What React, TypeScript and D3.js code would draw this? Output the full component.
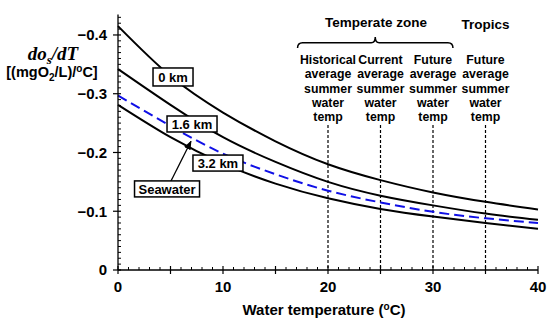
import React from 'react';
import * as d3 from 'd3';

// water temperature (°C) sampled every 5 degrees
const temps = [0, 5, 10, 15, 20, 25, 30, 35, 40];
// dos/dT in (mgO2/L)/°C
const km0 = [-0.415, -0.33, -0.268, -0.219, -0.18, -0.153, -0.132, -0.116, -0.103];
const km16 = [-0.342, -0.281, -0.226, -0.184, -0.15, -0.1265, -0.11, -0.096, -0.0855];
const km32 = [-0.281, -0.226, -0.181, -0.147, -0.122, -0.104, -0.091, -0.08, -0.07];
const seawater = [-0.297, -0.245, -0.198, -0.163, -0.135, -0.115, -0.099, -0.088, -0.08];

const yTicks = [0, -0.1, -0.2, -0.3, -0.4];
const xTicks = [0, 10, 20, 30, 40];

// reference temperatures marked with dashed lines
const markTemps = [20, 25, 30, 35];
const markFirstWord = ['Historical', 'Current', 'Future', 'Future'];
const markRest = ['average', 'summer', 'water', 'temp'];

const FONT = 'Liberation Sans, Arial, Helvetica, sans-serif';

const App = () => {
  const x = d3.scaleLinear().domain([0, 40]).range([118, 538]);
  const y = d3.scaleLinear().domain([0, -0.435]).range([270, 14.4]);

  const line = d3
    .line<number>()
    .x((_, i) => x(temps[i]))
    .y(d => y(d))
    .curve(d3.curveNatural);

  const yMinor = d3.range(1, 44).filter(i => i % 10 !== 0).map(i => -i * 0.01);
  const xMinor = d3.range(0, 41).filter(t => t % 5 !== 0);
  const xMid = d3.range(0, 41, 5);

  // curve labels, placed in data units
  const labels = [
    { text: '0 km', t: 5.24, v: -0.3285, w: 40, h: 18 },
    { text: '1.6 km', t: 7.05, v: -0.2485, w: 50, h: 16 },
    { text: '3.2 km', t: 9.52, v: -0.182, w: 50, h: 16 },
    { text: 'Seawater', t: 4.67, v: -0.138, w: 65, h: 16 },
  ];

  const bx0 = x(17.1), bx1 = x(31.9), bxm = x(24.5);
  const brace = `M${bx0},48 Q${bx0},42.7 ${bx0 + 5},42.7 L${bxm - 4},42.7 Q${bxm},42.7 ${bxm},37 Q${bxm},42.7 ${bxm + 4},42.7 L${bx1 - 5},42.7 Q${bx1},42.7 ${bx1},48`;

  return (
    <svg width={550} height={322} style={{ position: 'absolute', left: 0, top: 0 }} fontFamily={FONT} fontWeight="bold">
      <defs>
        <marker id="arr" viewBox="0 0 10 10" refX="9" refY="5" markerWidth="7" markerHeight="7" orient="auto">
          <path d="M0,1 L10,5 L0,9 z" fill="black" />
        </marker>
      </defs>

      {/* dashed reference lines */}
      {markTemps.map(t => (
        <line key={t} x1={x(t)} x2={x(t)} y1={125} y2={y(0)} stroke="black" strokeWidth={1.2} strokeDasharray="3,2" />
      ))}

      {/* curves */}
      {[km0, km16, km32].map((s, i) => (
        <path key={i} d={line(s) || ''} fill="none" stroke="black" strokeWidth={2} />
      ))}
      <path d={line(seawater) || ''} fill="none" stroke="#1010e6" strokeWidth={2} strokeDasharray="10,5" />

      {/* y axis */}
      <line x1={x(0)} x2={x(0)} y1={y(0)} y2={y(-0.435)} stroke="black" strokeWidth={1.3} />
      {yMinor.map(v => (
        <line key={v} x1={x(0)} x2={x(0) + 3} y1={y(v)} y2={y(v)} stroke="black" strokeWidth={1} />
      ))}
      {yTicks.map(v => (
        <g key={v}>
          <line x1={x(0) - 5} x2={x(0) + 3} y1={y(v)} y2={y(v)} stroke="black" strokeWidth={1.2} />
          <text x={107} y={y(v)} dy="0.36em" textAnchor="end" fontSize={15}>
            {v === 0 ? '0' : '\u2212' + Math.abs(v).toFixed(1)}
          </text>
        </g>
      ))}

      {/* x axis */}
      <line x1={x(0)} x2={x(40)} y1={y(0)} y2={y(0)} stroke="black" strokeWidth={1.3} />
      {xMinor.map(t => (
        <line key={t} x1={x(t)} x2={x(t)} y1={y(0)} y2={y(0) - 3} stroke="black" strokeWidth={1} />
      ))}
      {xMid.map(t => (
        <line key={t} x1={x(t)} x2={x(t)} y1={y(0) - 4} y2={y(0) + 4} stroke="black" strokeWidth={1.2} />
      ))}
      {xTicks.map(t => (
        <text key={t} x={x(t)} y={292} textAnchor="middle" fontSize={15}>{t}</text>
      ))}
      <text x={324} y={315} textAnchor="middle" fontSize={15}>
        Water temperature (<tspan dy={-5} fontSize={10}>o</tspan><tspan dy={5}>C)</tspan>
      </text>

      {/* y title */}
      <text x={53} y={60} textAnchor="middle" fontSize={19} fontFamily="Liberation Serif, Times New Roman, serif" fontStyle="italic">
        do<tspan dy={4} fontSize={13}>s</tspan><tspan dy={-4}>/dT</tspan>
      </text>
      <text x={52} y={77} textAnchor="middle" fontSize={14.5}>
        [(mgO<tspan dy={4} fontSize={10}>2</tspan><tspan dy={-4}>/L)/</tspan><tspan dy={-5} fontSize={10}>o</tspan><tspan dy={5}>C]</tspan>
      </text>

      {/* arrow to seawater curve */}
      <line x1={x(4.95)} y1={y(-0.148)} x2={x(6.95)} y2={y(-0.219)} stroke="black" strokeWidth={1.3} markerEnd="url(#arr)" />

      {/* curve labels */}
      {labels.map(l => (
        <g key={l.text}>
          <rect x={x(l.t) - l.w / 2} y={y(l.v) - l.h / 2} width={l.w} height={l.h} fill="white" stroke="black" strokeWidth={1.5} />
          <text x={x(l.t)} y={y(l.v)} dy="0.36em" textAnchor="middle" fontSize={13}>{l.text}</text>
        </g>
      ))}

      {/* zone annotations */}
      <text x={376} y={27} textAnchor="middle" fontSize={13.5}>Temperate zone</text>
      <text x={x(35)} y={29} textAnchor="middle" fontSize={13.5}>Tropics</text>
      <path d={brace} fill="none" stroke="black" strokeWidth={1.5} />
      {markTemps.map((t, i) => (
        <text key={t} x={x(t)} y={64} textAnchor="middle" fontSize={12.3}>
          <tspan x={x(t)}>{markFirstWord[i]}</tspan>
          {markRest.map((w, j) => (
            <tspan key={j} x={x(t)} dy={14.25}>{w}</tspan>
          ))}
        </text>
      ))}
    </svg>
  );
};

export default App;
